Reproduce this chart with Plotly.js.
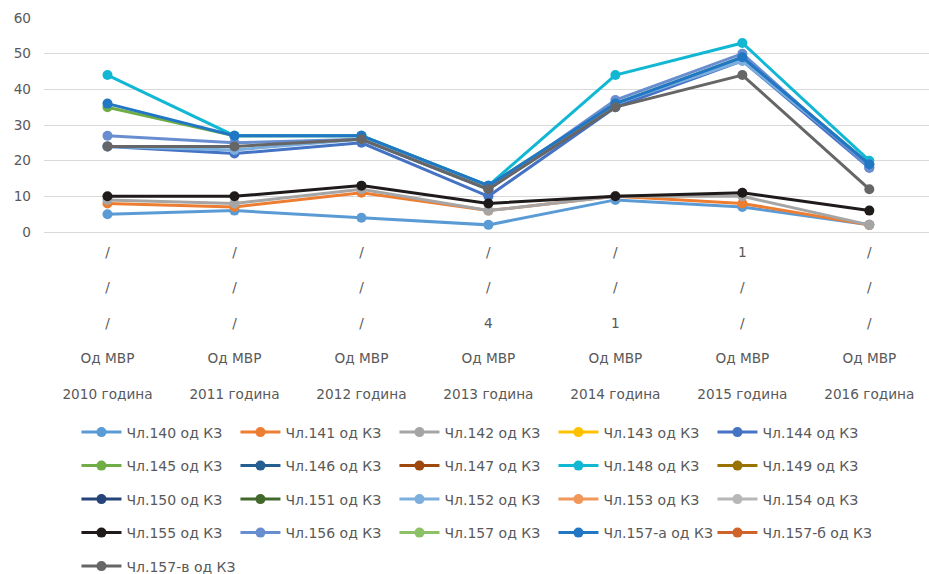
<!DOCTYPE html>
<html>
<head>
<meta charset="utf-8">
<script src="https://cdn.plot.ly/plotly-3.0.1.min.js"></script>
<style>html,body{margin:0;padding:0;background:#fff;}#chart{width:929px;height:574px;}</style>
</head>
<body>
<div id="chart"></div>
<script>
// Categories (multi-line labels, top to bottom)
var years = ["2010 година", "2011 година", "2012 година", "2013 година", "2014 година", "2015 година", "2016 година"];
var row1 = ["/", "/", "/", "/", "/", "1", "/"];
var row2 = ["/", "/", "/", "/", "/", "/", "/"];
var row3 = ["/", "/", "/", "4", "1", "/", "/"];
var source = ["Од МВР", "Од МВР", "Од МВР", "Од МВР", "Од МВР", "Од МВР", "Од МВР"];

// Series values (null = not visible in the picture)
var s140 = [5, 6, 4, 2, 9, 7, 2];
var s141 = [8, 7, 11, 6, 10, 8, 2];
var s142 = [9, 8, 12, 6, 10, 10, 2];
var s143 = [null, null, null, null, null, null, null];
var s144 = [24, 22, 25, 10, 35, 48, 18];
var s145 = [35, 27, 27, 13, 36, 49, 19];
var s146 = [null, null, null, null, null, null, null];
var s147 = [null, null, null, null, null, null, null];
var s148 = [44, 27, 27, 13, 44, 53, 20];
var s149 = [null, null, null, null, null, null, null];
var s150 = [null, null, null, null, null, null, null];
var s151 = [null, null, null, null, null, null, null];
var s152 = [24, 23, 26, 12, 36, 48, 19];
var s153 = [null, null, null, null, null, null, null];
var s154 = [null, null, null, null, null, null, null];
var s155 = [10, 10, 13, 8, 10, 11, 6];
var s156 = [27, 25, 26, 12, 37, 50, 18];
var s157 = [null, null, null, null, null, null, null];
var s157a = [36, 27, 27, 13, 36, 49, 19];
var s157b = [null, null, null, null, null, null, null];
var s157v = [24, 24, 26, 12, 35, 44, 12];

var names = ["Чл.140 од КЗ", "Чл.141 од КЗ", "Чл.142 од КЗ", "Чл.143 од КЗ", "Чл.144 од КЗ",
  "Чл.145 од КЗ", "Чл.146 од КЗ", "Чл.147 од КЗ", "Чл.148 од КЗ", "Чл.149 од КЗ",
  "Чл.150 од КЗ", "Чл.151 од КЗ", "Чл.152 од КЗ", "Чл.153 од КЗ", "Чл.154 од КЗ",
  "Чл.155 од КЗ", "Чл.156 од КЗ", "Чл.157 од КЗ", "Чл.157-а од КЗ", "Чл.157-б од КЗ",
  "Чл.157-в од КЗ"];
var series = [s140, s141, s142, s143, s144, s145, s146, s147, s148, s149, s150, s151,
  s152, s153, s154, s155, s156, s157, s157a, s157b, s157v];
var colors = ["#5B9BD5", "#ED7D31", "#A5A5A5", "#FFC000", "#4472C4", "#70AD47", "#255E91",
  "#9E480E", "#12B8D3", "#997300", "#264478", "#43682B", "#7CAFDD", "#F1975A", "#B7B7B7",
  "#1E1B1A", "#698ED0", "#8CC168", "#2277C4", "#D0632A", "#666666"];

var cats = [];
for (var i = 0; i < years.length; i++) {
  cats.push(row1[i] + "<br><br>" + row2[i] + "<br><br>" + row3[i] + "<br><br>" + source[i] + "<br><br>" + years[i]);
}

var legendNames = ["legend", "legend2", "legend3", "legend4", "legend5"];
var traces = [];
for (var k = 0; k < series.length; k++) {
  traces.push({
    type: "scatter",
    mode: "lines+markers",
    x: [0, 1, 2, 3, 4, 5, 6],
    y: series[k],
    name: names[k],
    legend: legendNames[Math.floor(k / 5)],
    line: {color: colors[k], width: 3},
    marker: {color: colors[k], size: 10},
    hoverinfo: "name+y"
  });
}

var fam = "'DejaVu Sans', sans-serif";
var font = {family: fam, size: 14, color: "#595959"};
function mkLegend(row) {
  return {
    orientation: "h",
    xref: "container", yref: "container",
    x: 0.0823, xanchor: "left",
    y: 1 - (416.5 + row * 33.5) / 574, yanchor: "top",
    entrywidth: 104, entrywidthmode: "pixels",
    itemwidth: 40,
    font: {family: fam, size: 14, color: "#595959"},
    bgcolor: "rgba(0,0,0,0)",
    traceorder: "normal"
  };
}

var layout = {
  width: 929, height: 574,
  margin: {l: 44, r: 0, t: 18, b: 341.5},
  paper_bgcolor: "#ffffff", plot_bgcolor: "#ffffff",
  font: font,
  showlegend: true,
  xaxis: {
    type: "linear",
    range: [-0.5, 6.47],
    tickmode: "array",
    tickvals: [0, 1, 2, 3, 4, 5, 6],
    ticktext: cats,
    showgrid: false,
    zeroline: false,
    showline: false,
    ticks: "",
    tickfont: {family: fam, size: 13.65, color: "#595959"},
    ticklabelstandoff: 10,
    fixedrange: true
  },
  yaxis: {
    range: [0, 60],
    dtick: 10,
    showgrid: true,
    gridcolor: "#D9D9D9",
    gridwidth: 1,
    zeroline: true,
    zerolinecolor: "#D9D9D9",
    zerolinewidth: 1,
    showline: false,
    ticks: "",
    tickfont: {family: fam, size: 13.65, color: "#595959"},
    ticklabelstandoff: 12,
    fixedrange: true
  },
  legend: mkLegend(0),
  legend2: mkLegend(1),
  legend3: mkLegend(2),
  legend4: mkLegend(3),
  legend5: mkLegend(4)
};

Plotly.newPlot("chart", traces, layout, {displayModeBar: false, staticPlot: true});
</script>
</body>
</html>
